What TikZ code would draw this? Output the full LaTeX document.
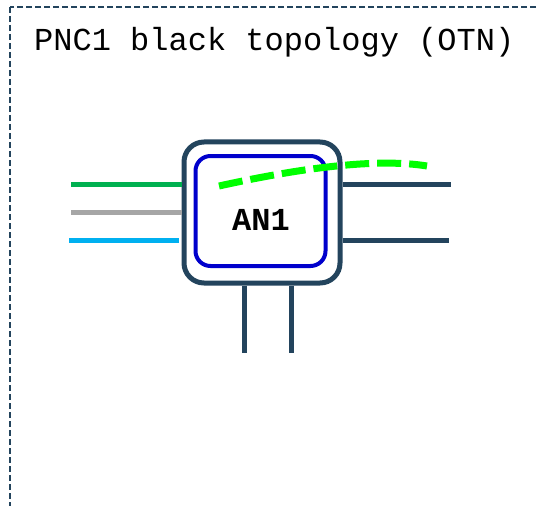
\documentclass[tikz,border=0pt]{standalone}
\usepackage{fontspec}
\setmonofont{Liberation Mono}
\usetikzlibrary{positioning,calc}
\definecolor{navy}{HTML}{23445D}
\definecolor{anblue}{HTML}{0000CC}
\definecolor{lgreen}{HTML}{00B050}
\definecolor{lgray}{HTML}{A6A6A6}
\definecolor{lcyan}{HTML}{00B0F0}
\definecolor{otngreen}{HTML}{00FF00}

\begin{document}
\begin{tikzpicture}[x=1pt,y=-1pt,
  outerbox/.style={draw=navy,line width=5pt,rounded corners=20pt,minimum width=156pt,minimum height=141pt,inner sep=0pt},
  innerbox/.style={draw=anblue,line width=4pt,rounded corners=15pt,minimum width=130pt,minimum height=110pt,inner sep=0pt},
  port/.style={line width=5pt},
  otnpath/.style={draw=otngreen,line width=7pt,dash pattern=on 24pt off 8pt}]
\clip (0,0) rectangle (537,505);
\draw[navy,line width=1.5pt,dash pattern=on 6pt off 3pt] (10,7) rectangle (560,530);
\node[anchor=base west,inner sep=0pt,font=\ttfamily\fontsize{32}{38}\selectfont] (title) at (34,51) {PNC1 black topology (OTN)};
\node[outerbox] (AN1box) at (262,212.5) {};
\node[innerbox] (AN1in) at (260.5,211) {};
\node[anchor=base,inner sep=0pt,font=\ttfamily\bfseries\fontsize{32}{38}\selectfont] (AN1) at (261,230.7) {AN1};
% client side
\coordinate (cg) at (71,184.3);
\coordinate (cs) at (71,212.7);
\coordinate (cc) at (69,240.7);
\draw[port,lgreen] (cg) -- (cg -| AN1box.west);
\draw[port,lgray] (cs) -- (cs -| AN1box.west);
\draw[port,lcyan] (cc) -- ($(cc -| AN1box.west)+(-3,0)$);
% line side
\coordinate (e1) at (451,184.3);
\coordinate (e2) at (449,240.7);
\coordinate (s1) at (244,353);
\coordinate (s2) at (291.7,353);
\draw[port,navy] (AN1box.east |- e1) -- (e1);
\draw[port,navy] (AN1box.east |- e2) -- (e2);
\draw[port,navy] (s1 |- AN1box.south) -- (s1);
\draw[port,navy] (s2 |- AN1box.south) -- (s2);
% OTN path
\coordinate (otnA) at (219,186);
\coordinate (otnB) at (427,166);
\draw[otnpath] (otnA) .. controls (313,165.3) and (382.3,158.7) .. (otnB);
\end{tikzpicture}
\end{document}
